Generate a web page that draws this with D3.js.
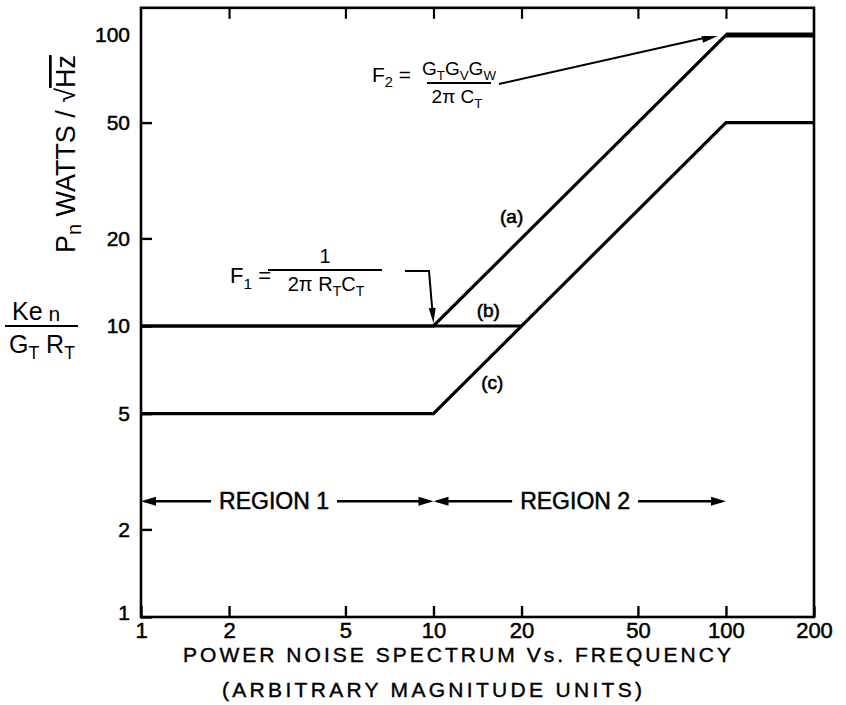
<!DOCTYPE html>
<html><head><meta charset="utf-8">
<script src="https://cdn.jsdelivr.net/npm/d3@7"></script>
<style>body{margin:0;background:#fff}svg{display:block}text{font-family:"Liberation Sans",Arial,sans-serif;fill:#000}</style>
</head><body><svg id="c" width="846" height="705"></svg>
<script>
// ---- data ----
const xTicks = [1, 2, 5, 10, 20, 50, 100, 200];
const yTicks = [1, 2, 5, 10, 20, 50, 100];
const curveA_x = [1, 10, 100, 200];
const curveA_y = [10, 10, 100, 100];
const curveB_x = [1, 20];
const curveB_y = [10, 10];
const curveC_x = [1, 10, 100, 200];
const curveC_y = [5, 5, 50, 50];
const curveLabels = ["(a)", "(b)", "(c)"];
const curveLabelX = [18.5, 15.4, 15.9];
const curveLabelY = [23.5, 11.2, 6.3];
const regionNames = ["REGION 1", "REGION 2"];
const regionStart = [1, 10];
const regionEnd = [10, 100];
const regionLabelX = [2.85, 30.5];
const regionY = 2.5;
const xDomain = [1, 200];
const yDomain = [1, 124];

// ---- scales ----
const svg = d3.select('#c');
const x = d3.scaleLog().domain(xDomain).range([141, 814]);
const y = d3.scaleLog().domain([1, 100]).range([617, 35]);
const yTopPx = y(yDomain[1]);
const FONT = '"Liberation Sans",Arial,sans-serif';

// frame
svg.append('rect').attr('x', x(xDomain[0])).attr('y', yTopPx)
  .attr('width', x(xDomain[1]) - x(xDomain[0])).attr('height', y(yDomain[0]) - yTopPx)
  .attr('fill', 'none').attr('stroke', '#000').attr('stroke-width', 2.6);

// axes
const gB = svg.append('g').attr('transform', `translate(0,${y(1)})`)
  .call(d3.axisBottom(x).tickValues(xTicks).tickFormat(d3.format('d')).tickSizeInner(-11).tickSizeOuter(0).tickPadding(5));
gB.select('.domain').remove();
gB.selectAll('line').attr('stroke-width', 2.4);
gB.selectAll('text').attr('font-size', 22).attr('font-family', FONT).attr('stroke', '#000').attr('stroke-width', 0.5);

const gT = svg.append('g').attr('transform', `translate(0,${yTopPx})`)
  .call(d3.axisTop(x).tickValues(xTicks.slice(1, -1)).tickFormat('').tickSizeInner(-11).tickSizeOuter(0));
gT.select('.domain').remove();
gT.selectAll('line').attr('stroke-width', 2.2);

const gL = svg.append('g').attr('transform', `translate(${x(1)},0)`)
  .call(d3.axisLeft(y).tickValues(yTicks).tickFormat(d3.format('d')).tickSizeInner(-11).tickSizeOuter(0).tickPadding(11));
gL.select('.domain').remove();
gL.selectAll('line').attr('stroke-width', 2.4);
gL.selectAll('.tick').filter(d => d === 100).select('line').remove();
gL.selectAll('text').attr('font-size', 21).attr('font-family', FONT).attr('stroke', '#000').attr('stroke-width', 0.5);
gL.selectAll('.tick').filter(d => d === 1).select('text').attr('dy', '0.1em');

// curves
const line = d3.line().x(d => x(d[0])).y(d => y(d[1]));
const curves = [
  d3.zip(curveA_x, curveA_y),
  d3.zip(curveB_x, curveB_y),
  d3.zip(curveC_x, curveC_y)
];
svg.append('g').selectAll('path').data(curves).join('path')
  .attr('d', line).attr('fill', 'none').attr('stroke', '#000')
  .attr('stroke-width', 3.2).attr('stroke-linejoin', 'miter');
// heavier plateau of (a)
svg.append('path').attr('d', line(d3.zip(curveA_x, curveA_y).slice(2)))
  .attr('fill', 'none').attr('stroke', '#000').attr('stroke-width', 5);

// curve labels
svg.append('g').selectAll('text').data(curveLabels).join('text')
  .attr('x', (d, i) => x(curveLabelX[i])).attr('y', (d, i) => y(curveLabelY[i]))
  .attr('text-anchor', 'middle').attr('dominant-baseline', 'middle')
  .attr('font-size', 19).attr('stroke', '#000').attr('stroke-width', 0.6).text(d => d);

// arrowheads
function arrowHead(g, tipX, tipY, angle, len = 15, w = 9) {
  const a = angle;
  const bx = tipX - len * Math.cos(a), by = tipY - len * Math.sin(a);
  const nx = -Math.sin(a) * w / 2, ny = Math.cos(a) * w / 2;
  g.append('path').attr('d', `M${tipX},${tipY}L${bx + nx},${by + ny}L${bx - nx},${by - ny}Z`).attr('fill', '#000');
}

// region arrows
const gR = svg.append('g');
const ry = y(regionY);
regionNames.forEach((name, i) => {
  const cx = x(regionLabelX[i]);
  const t = gR.append('text').attr('x', cx).attr('y', ry).attr('text-anchor', 'middle')
    .attr('dominant-baseline', 'central').attr('font-size', 23)
    .attr('stroke', '#000').attr('stroke-width', 0.5).text(name);
  const bb = t.node().getBBox();
  const x0 = x(regionStart[i]), x1 = x(regionEnd[i]);
  gR.append('line').attr('x1', x0 + 4).attr('x2', bb.x - 8).attr('y1', ry).attr('y2', ry).attr('stroke', '#000').attr('stroke-width', 2.4);
  gR.append('line').attr('x1', bb.x + bb.width + 8).attr('x2', x1 - 4).attr('y1', ry).attr('y2', ry).attr('stroke', '#000').attr('stroke-width', 2.4);
  arrowHead(gR, x0, ry, Math.PI);
  arrowHead(gR, x1, ry, 0);
});

// helper: text with subscripts
function richText(g, px, py, parts, size, anchor) {
  const t = g.append('text').attr('x', px).attr('y', py).attr('font-size', size).attr('text-anchor', anchor || 'start');
  parts.forEach(p => {
    const s = t.append('tspan').text(p[0]);
    if (p[1] === 'sub') s.attr('font-size', size * 0.7).attr('dy', size * 0.25);
    else if (p[1] === 'up') s.attr('dy', -size * 0.25);
  });
  return t;
}

// F2 formula
const gF2 = svg.append('g');
richText(gF2, 372, 82, [['F'], ['2', 'sub'], [' =', 'up']], 21);
richText(gF2, 459, 75, [['G'], ['T', 'sub'], ['G', 'up'], ['V', 'sub'], ['G', 'up'], ['W', 'sub']], 19, 'middle');
gF2.append('line').attr('x1', 427).attr('x2', 491).attr('y1', 83).attr('y2', 83).attr('stroke', '#000').attr('stroke-width', 1.8);
richText(gF2, 457, 103, [['2\u03C0 C'], ['T', 'sub']], 19, 'middle');
gF2.append('line').attr('x1', 499).attr('y1', 84).attr('x2', x(100) - 22).attr('y2', y(100) + 3).attr('stroke', '#000').attr('stroke-width', 2);
arrowHead(gF2, x(100) - 8, y(100) + 1, Math.atan2((y(100) + 1) - 84, (x(100) - 8) - 499), 16, 7);

// F1 formula
const gF1 = svg.append('g');
richText(gF1, 230, 283, [['F'], ['1', 'sub'], [' =', 'up']], 22);
richText(gF1, 325, 263, [['1']], 20, 'middle');
gF1.append('line').attr('x1', 268).attr('x2', 382).attr('y1', 270).attr('y2', 270).attr('stroke', '#000').attr('stroke-width', 1.8);
richText(gF1, 326, 291, [['2\u03C0 R'], ['T', 'sub'], ['C', 'up'], ['T', 'sub']], 20, 'middle');
gF1.append('path').attr('d', `M405,271L429,271L${x(10) - 1},${y(10) - 14}`).attr('fill', 'none').attr('stroke', '#000').attr('stroke-width', 2);
arrowHead(gF1, x(10), y(10) - 3, Math.atan2(y(10) - 3 - 271, x(10) - 429), 15, 7);

// y-axis label (rotated)
const gY = svg.append('g').attr('transform', 'translate(75,253) rotate(-90)');
const ty = gY.append('text').attr('x', 0).attr('y', 0).attr('font-size', 27)
  .attr('textLength', 198).attr('lengthAdjust', 'spacingAndGlyphs');
ty.append('tspan').text('P');
ty.append('tspan').text('n').attr('dy', 6).attr('font-size', 20);
ty.append('tspan').text('  WATTS / \u221A').attr('dy', -6);
ty.append('tspan').text('Hz').attr('text-decoration', 'overline');

// Ke_n / G_T R_T
const gK = svg.append('g');
const tk = gK.append('text').attr('x', 12).attr('y', 320).attr('font-size', 25);
tk.append('tspan').text('Ke');
tk.append('tspan').text(' n').attr('font-size', 21).attr('dy', 1);
gK.append('line').attr('x1', 5).attr('x2', 78).attr('y1', 326).attr('y2', 326).attr('stroke', '#000').attr('stroke-width', 1.8);
richText(gK, 9, 353, [['G'], ['T', 'sub'], [' R', 'up'], ['T', 'sub']], 25);

// bottom titles
svg.append('text').attr('x', 183).attr('y', 662).attr('font-size', 21).attr('textLength', 548).attr('lengthAdjust', 'spacing')
  .attr('stroke', '#000').attr('stroke-width', 0.4)
  .text('POWER  NOISE  SPECTRUM  Vs. FREQUENCY');
svg.append('text').attr('x', 222).attr('y', 697).attr('font-size', 21).attr('textLength', 420).attr('lengthAdjust', 'spacing')
  .attr('stroke', '#000').attr('stroke-width', 0.4)
  .text('(ARBITRARY  MAGNITUDE  UNITS)');
</script></body></html>
